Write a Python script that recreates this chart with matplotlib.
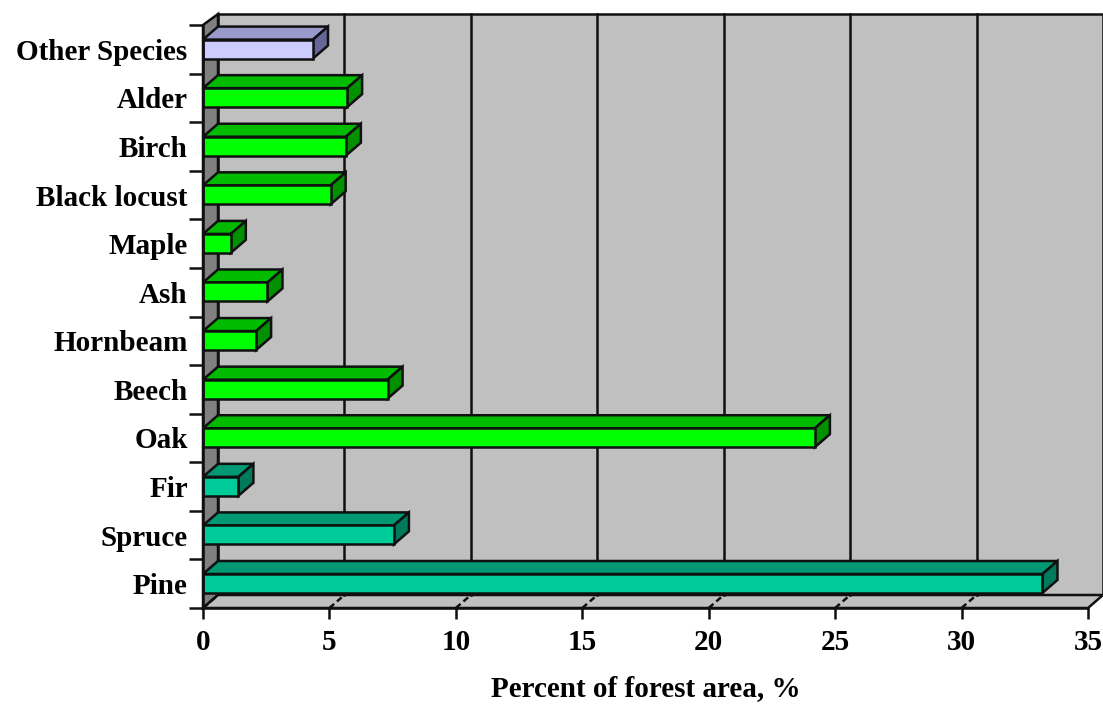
import numpy as np
import matplotlib
matplotlib.use('Agg')
import matplotlib.pyplot as plt
from matplotlib.patches import Polygon

species = ['Pine', 'Spruce', 'Fir', 'Oak', 'Beech', 'Hornbeam', 'Ash', 'Maple',
           'Black locust', 'Birch', 'Alder', 'Other Species']
percent = [33.2, 7.55, 1.4, 24.2, 7.3, 2.1, 2.55, 1.1, 5.05, 5.65, 5.7, 4.35]
groups = ['conifer', 'conifer', 'conifer', 'broad', 'broad', 'broad', 'broad', 'broad',
          'broad', 'broad', 'broad', 'other']
x_ticks = [0, 5, 10, 15, 20, 25, 30, 35]

# front, top, side
COLORS = {
    'conifer': ('#00CC99', '#009973', '#007A5C'),
    'broad': ('#00FF00', '#00BB00', '#009000'),
    'other': ('#CCCCFF', '#9999CC', '#666699'),
}

plt.rcParams['font.family'] = ['Liberation Serif', 'DejaVu Serif']
plt.rcParams['font.weight'] = 'bold'

W, H = 1103, 704
figure = plt.figure(figsize=(W / 100, H / 100), dpi=100)
axis = figure.add_axes([203 / W, (H - 608) / H, 885 / W, 583 / H])
axis.set_xlim(0, 35)
axis.set_ylim(0, 12)

# depth of the fake 3d box, in data units
dx = 15 / 885 * 35
dy = 13 / 583 * 12
lw = 1.8
y_top = 12
wall_top = y_top + 11 / 583 * 12


def face(points, color, z):
    axis.add_patch(Polygon(points, closed=True, facecolor=color, edgecolor='#101010',
                           linewidth=lw, clip_on=False, zorder=z))


# walls and floor
face([(dx, dy), (35 + dx, dy), (35 + dx, wall_top), (dx, wall_top)], '#C0C0C0', 1)
face([(0, 0), (dx, dy), (dx, wall_top), (0, y_top)], '#808080', 1.1)
face([(0, 0), (35, 0), (35 + dx, dy), (dx, dy)], '#C0C0C0', 1.1)

for tick in x_ticks[1:-1]:
    axis.plot([tick + dx, tick + dx], [dy, wall_top], color='#101010', lw=lw,
              clip_on=False, zorder=1.2)
for tick in x_ticks[:-1]:
    axis.plot([tick, tick + dx], [0, dy], color='#101010', lw=lw, ls=(0, (2.5, 1.5)),
              clip_on=False, zorder=1.2)

# bars, top ones first so lower bars stay in front
bar_h = 0.39
for i in range(len(species) - 1, -1, -1):
    front, top, side = COLORS[groups[i]]
    value = percent[i]
    y0 = i + 0.505 - bar_h / 2
    y1 = y0 + bar_h
    z = 3 + (len(species) - i) * 0.1
    face([(0, y1), (value, y1), (value + dx, y1 + dy), (dx, y1 + dy)], top, z)
    face([(value, y0), (value + dx, y0 + dy), (value + dx, y1 + dy), (value, y1)], side, z)
    axis.barh(i + 0.505, value, height=bar_h, color=front, edgecolor='#101010',
              linewidth=lw, clip_on=False, zorder=z + 0.01)

for name in ['top', 'right']:
    axis.spines[name].set_visible(False)
for name in ['left', 'bottom']:
    axis.spines[name].set_linewidth(lw)
    axis.spines[name].set_color('#101010')
    axis.spines[name].set_zorder(6)

axis.set_xticks(x_ticks)
axis.set_xticklabels(x_ticks, fontsize=21, fontweight='bold')
axis.set_yticks(np.arange(0, 13))
axis.set_yticklabels([])
axis.set_yticks(np.arange(len(species)) + 0.5, labels=species, minor=True,
                fontsize=21, fontweight='bold')
axis.tick_params(axis='y', which='major', length=10, width=lw, color='#101010')
axis.tick_params(axis='y', which='minor', length=0, pad=11)
axis.tick_params(axis='x', length=8, width=lw, color='#101010', pad=7)

axis.set_xlabel('Percent of forest area, %', fontsize=21, fontweight='bold')
axis.xaxis.set_label_coords(0.5, -(689 - 608) / 583, transform=axis.transAxes)
axis.xaxis.label.set_verticalalignment('center')

figure.savefig('out.png', dpi=100)
